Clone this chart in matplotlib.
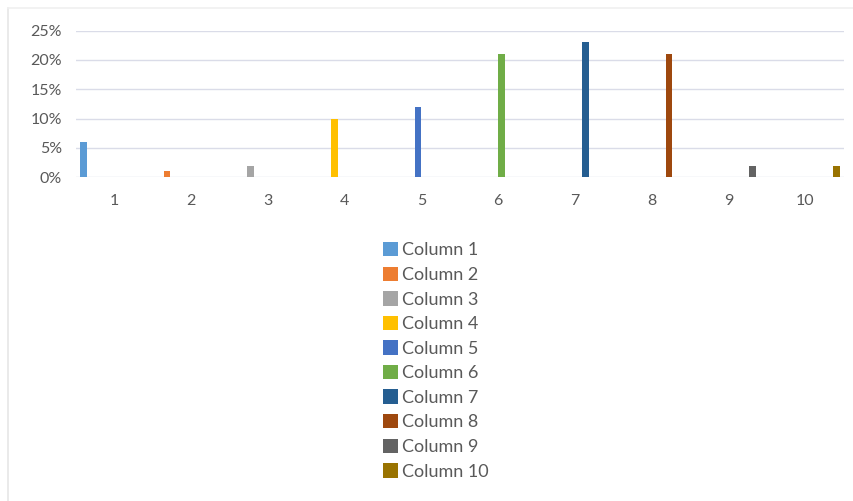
import matplotlib.pyplot as plt
from matplotlib.lines import Line2D
from matplotlib.patches import Patch
from matplotlib.ticker import PercentFormatter

categories = ["1", "2", "3", "4", "5", "6", "7", "8", "9", "10"]
series = ["Column 1", "Column 2", "Column 3", "Column 4", "Column 5",
          "Column 6", "Column 7", "Column 8", "Column 9", "Column 10"]
# each series only has a value in its own category
values = [0.06, 0.01, 0.02, 0.10, 0.12, 0.21, 0.23, 0.21, 0.02, 0.02]
colors = ["#5B9BD5", "#ED7D31", "#A5A5A5", "#FFC000", "#4472C4",
          "#70AD47", "#255E91", "#9E480E", "#636363", "#997300"]

plt.rcParams['font.family'] = ['Lato', 'DejaVu Sans']
grey = "#595959"

fig = plt.figure(figsize=(8.54, 5.01), dpi=100)
ax = fig.add_axes([0.089, 0.646, 0.899, 0.293])

n = len(series)
slot = 0.09
for i, (name, v, c) in enumerate(zip(series, values, colors)):
    x = (i + 1) + (i - (n - 1) / 2) * slot
    ax.bar(x, v, width=slot * 0.95, color=c, label=name, zorder=3)

ax.set_xlim(0.5, n + 0.5)
ax.set_ylim(0, 0.25)
ax.set_xticks(range(1, n + 1))
ax.set_xticklabels(categories)
ax.set_yticks([0, 0.05, 0.10, 0.15, 0.20, 0.25])
ax.yaxis.set_major_formatter(PercentFormatter(1.0, decimals=0))
ax.tick_params(length=0, labelsize=11.5, colors=grey)
ax.tick_params(axis='x', pad=12)
ax.tick_params(axis='y', pad=10)
ax.grid(axis='y', color="#DADCE8", linewidth=1, zorder=0)
for s in ax.spines.values():
    s.set_visible(False)

handles = [Patch(facecolor=c, edgecolor='none') for c in colors]
fig.legend(handles, series, loc='upper left', bbox_to_anchor=(0.448, 0.517),
           frameon=False, fontsize=13, labelcolor=grey, handlelength=0.85,
           handleheight=0.85, handletextpad=0.2, labelspacing=0.45,
           borderpad=0, borderaxespad=0)

# faint frame edges
fig.add_artist(Line2D([0.0094, 0.0094], [0, 0.985], color="#E6E6E6", lw=1.2))
fig.add_artist(Line2D([0.0094, 1], [0.985, 0.985], color="#F0F0F0", lw=1.2))

fig.savefig("out.png", dpi=100)
